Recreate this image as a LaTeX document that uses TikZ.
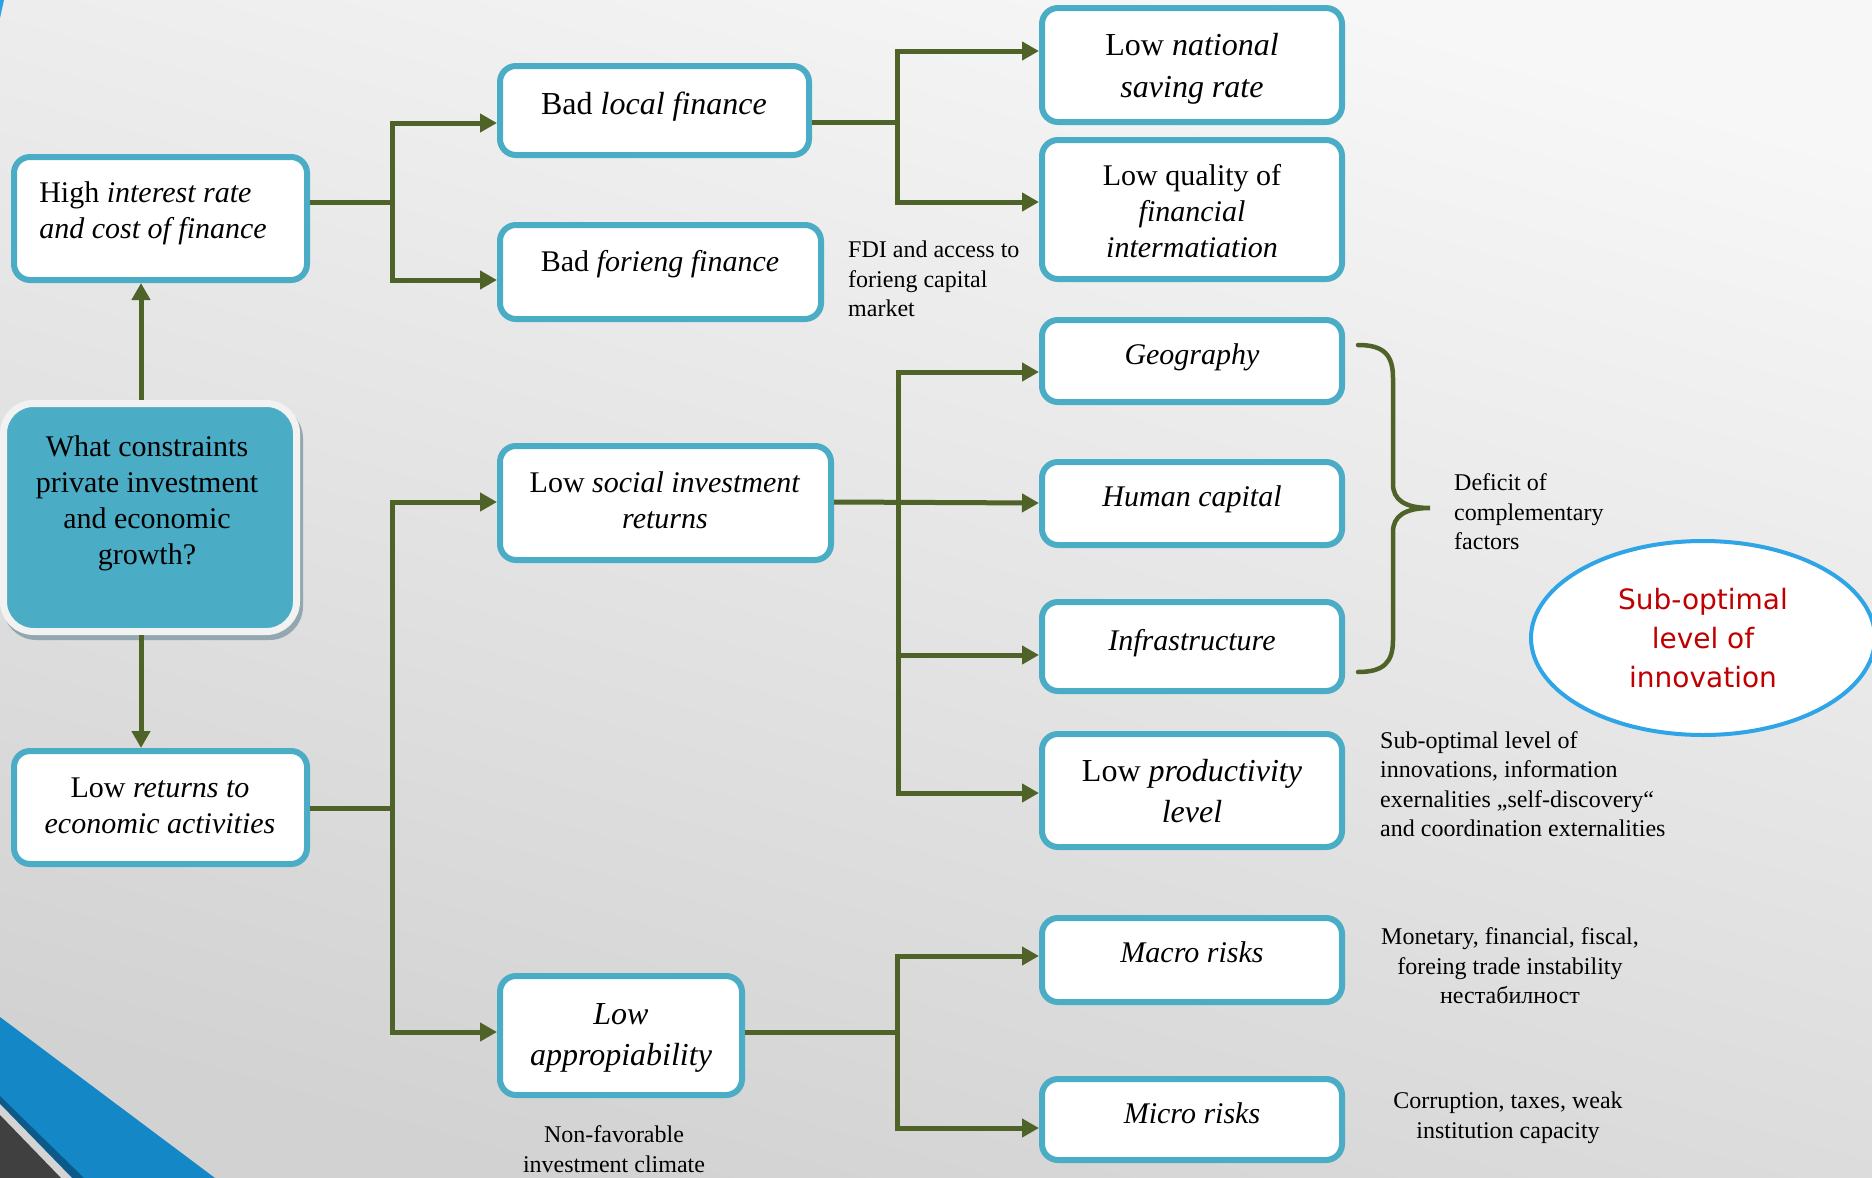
\documentclass[tikz,border=0pt]{standalone}
\usepackage{fontspec}
\setmainfont{Liberation Serif}
\newfontfamily\redfont{DejaVu Sans}
\usetikzlibrary{arrows.meta,shadows,shapes.geometric,calc}

\definecolor{boxblue}{HTML}{4BACC6}
\definecolor{wiregreen}{HTML}{4F6228}
\definecolor{ellblue}{HTML}{2FA4E7}
\definecolor{redtxt}{HTML}{C00000}
\definecolor{ringwhite}{HTML}{F2F2F2}
\definecolor{shadowgray}{HTML}{93A7B0}
\definecolor{bgtop}{HTML}{F7F7F7}
\definecolor{bgbot}{HTML}{D2D2D2}
\definecolor{decoblue}{HTML}{1487C6}
\definecolor{decodark}{HTML}{0B5A8A}
\definecolor{decogray}{HTML}{404040}
\definecolor{decolight}{HTML}{D4D4D4}
\definecolor{cornerblue}{HTML}{29A3E6}

\tikzset{
  bx/.style={draw=boxblue, line width=6pt, fill=white, rounded corners=16pt, inner sep=0pt},
  tx/.style={inner sep=0pt, align=center, font=\fontsize{30}{36}\selectfont},
  txbig/.style={inner sep=0pt, align=center, font=\fontsize{32}{41}\selectfont},
  note/.style={inner sep=0pt, font=\fontsize{24}{29.5}\selectfont},
  wire/.style={draw=wiregreen, line width=5pt},
  arr/.style={wire, -{Triangle[length=17pt,width=18pt]}},
  question/.style={fill=boxblue, draw=ringwhite, line width=7pt, rounded corners=30pt,
    inner sep=0pt, drop shadow={shadow xshift=3pt, shadow yshift=-5pt, fill=shadowgray, draw=shadowgray, opacity=1}},
  oval/.style={ellipse, draw=ellblue, line width=4pt, fill=white, inner sep=0pt, align=center,
    text=redtxt, font=\redfont\fontsize{28}{39}\selectfont},
}

\begin{document}
\begin{tikzpicture}[x=1pt,y=-1pt]
\useasboundingbox (0,0) rectangle (1872,1178);
\clip (0,0) rectangle (1872,1178);
% background
\shade[top color=bgtop, bottom color=bgbot, shading angle=-16] (-10,-10) rectangle (1882,1188);
% decorations
\fill[cornerblue] (0,0) -- (4,0) -- (0,18) -- cycle;
\fill[decoblue] (0,1017) -- (215,1178) -- (0,1178) -- cycle;
\fill[decodark] (0,1096) -- (84,1178) -- (0,1178) -- cycle;
\fill[decolight] (0,1104) -- (72,1178) -- (0,1178) -- cycle;
\fill[decogray] (0,1115) -- (61,1178) -- (0,1178) -- cycle;

% boxes
\node[question, minimum width=293, minimum height=228] (q) at (150,517.5) {};
\node[tx] (q-t) at (147,503.5) {What constraints\\private investment\\and economic\\growth?};

\node[bx, minimum width=293, minimum height=123] (hi) at (160.5,218.5) {};
\node[tx, align=left] (hi-t) at (153,213.5) {High \textit{interest rate}\\\textit{and cost of finance}};

\node[bx, minimum width=293, minimum height=113] (lr) at (160.5,807.5) {};
\node[tx] (lr-t) at (160,806) {Low \textit{returns to}\\\textit{economic activities}};

\node[bx, minimum width=309, minimum height=89] (bl) at (654.5,110.5) {};
\node[txbig] (bl-t) at (654,106.5) {Bad \textit{local finance}};

\node[bx, minimum width=321, minimum height=94] (bf) at (660.5,272) {};
\node[tx] (bf-t) at (660,264.5) {Bad \textit{forieng finance}};

\node[bx, minimum width=331, minimum height=114] (ls) at (665.5,503) {};
\node[tx] (ls-t) at (665,500) {Low \textit{social investment}\\\textit{returns}};

\node[bx, minimum width=242, minimum height=119] (la) at (621,1035.5) {};
\node[txbig] (la-t) at (621,1037.5) {\textit{Low}\\\textit{appropiability}};

\node[bx, minimum width=300, minimum height=114] (ln) at (1192,65) {};
\node[txbig, font=\fontsize{32}{42}\selectfont] (ln-t) at (1192,68.5) {Low \textit{national}\\\textit{saving rate}};

\node[bx, minimum width=300, minimum height=139] (lq) at (1192,209.5) {};
\node[tx] (lq-t) at (1192,211) {Low quality of\\\textit{financial}\\\textit{intermatiation}};

\node[bx, minimum width=300, minimum height=82] (geo) at (1192,361) {};
\node[tx] (geo-t) at (1192,357.5) {\textit{Geography}};

\node[bx, minimum width=300, minimum height=83] (hc) at (1192,503.5) {};
\node[tx] (hc-t) at (1192,499.5) {\textit{Human capital}};

\node[bx, minimum width=300, minimum height=89] (inf) at (1192,646.5) {};
\node[tx] (inf-t) at (1192,643.5) {\textit{Infrastructure}};

\node[bx, minimum width=300, minimum height=113] (lp) at (1192,790.5) {};
\node[txbig] (lp-t) at (1192,791) {Low \textit{productivity}\\\textit{level}};

\node[bx, minimum width=300, minimum height=84] (mac) at (1192,960) {};
\node[tx] (mac-t) at (1192,952.5) {\textit{Macro risks}};

\node[bx, minimum width=300, minimum height=81] (mic) at (1192,1119.5) {};
\node[tx] (mic-t) at (1192,1113.5) {\textit{Micro risks}};

\node[oval, minimum width=344, minimum height=194] (so) at (1703,638) {Sub-optimal\\level of\\innovation};

% notes
\node[note, anchor=west, align=left] (fdi) at (848,279) {FDI and access to\\forieng capital\\market};
\node[note, anchor=west, align=left] (def) at (1454,512) {Deficit of\\complementary\\factors};
\node[note, anchor=west, align=left] (subn) at (1380,784) {Sub-optimal level of\\innovations, information\\exernalities „self-discovery“\\and coordination externalities};
\node[note, align=center] (mon) at (1510,966) {Monetary, financial, fiscal,\\foreing trade instability\\нестабилност};
\node[note, align=center] (cor) at (1508,1118) {Corruption, taxes, weak\\institution capacity};
\node[note, align=center] (nf) at (614,1149) {Non-favorable\\investment climate};

% connector coordinates
\coordinate (cx) at (141,0);
\coordinate (fA) at (392,202);
\coordinate (aBL) at (392,123);
\coordinate (aBF) at (392,280);
\coordinate (fB) at (897,122);
\coordinate (aLN) at (897,51);
\coordinate (aLQ) at (897,202);
\coordinate (fD) at (392,808);
\coordinate (aLS) at (392,502);
\coordinate (aLA) at (392,1032);
\coordinate (aGEO) at (898,372);
\coordinate (aHC) at (898,503);
\coordinate (aINF) at (898,655);
\coordinate (aLP) at (898,793);
\coordinate (fF) at (897,1032);
\coordinate (aMAC) at (897,956);
\coordinate (aMIC) at (897,1128);

% connectors
\draw[arr] (q.north -| cx) -- (hi.south -| cx);
\draw[arr] (q.south -| cx) -- (lr.north -| cx);

\draw[arr] (hi.east |- fA) -| (aBL) -- (aBL -| bl.west);
\draw[arr] (fA) |- (aBF -| bf.west);

\draw[arr] (bl.east |- fB) -| (aLN) -- (aLN -| ln.west);
\draw[arr] (fB) |- (aLQ -| lq.west);

\draw[arr] (lr.east |- fD) -| (aLS) -- (aLS -| ls.west);
\draw[arr] (fD) |- (aLA -| la.west);

\draw[arr] (ls.east |- aLS) -- (aHC -| hc.west);
\draw[arr] (aINF) |- (aGEO -| geo.west);
\draw[arr] (aINF) |- (aLP -| lp.west);
\draw[arr] (aINF) -- (aINF -| inf.west);

\draw[arr] (la.east |- fF) -| (aMAC) -- (aMAC -| mac.west);
\draw[arr] (fF) |- (aMIC -| mic.west);

% brace
\draw[wire, line width=4.5pt, line cap=round]
  (1358,345) .. controls (1384,345) and (1393,355) .. (1393,378)
  -- (1393,484) .. controls (1393,500) and (1405,508) .. (1430,508)
  .. controls (1405,508) and (1393,516) .. (1393,532)
  -- (1393,640) .. controls (1393,662) and (1384,672) .. (1358,672);
\end{tikzpicture}
\end{document}
